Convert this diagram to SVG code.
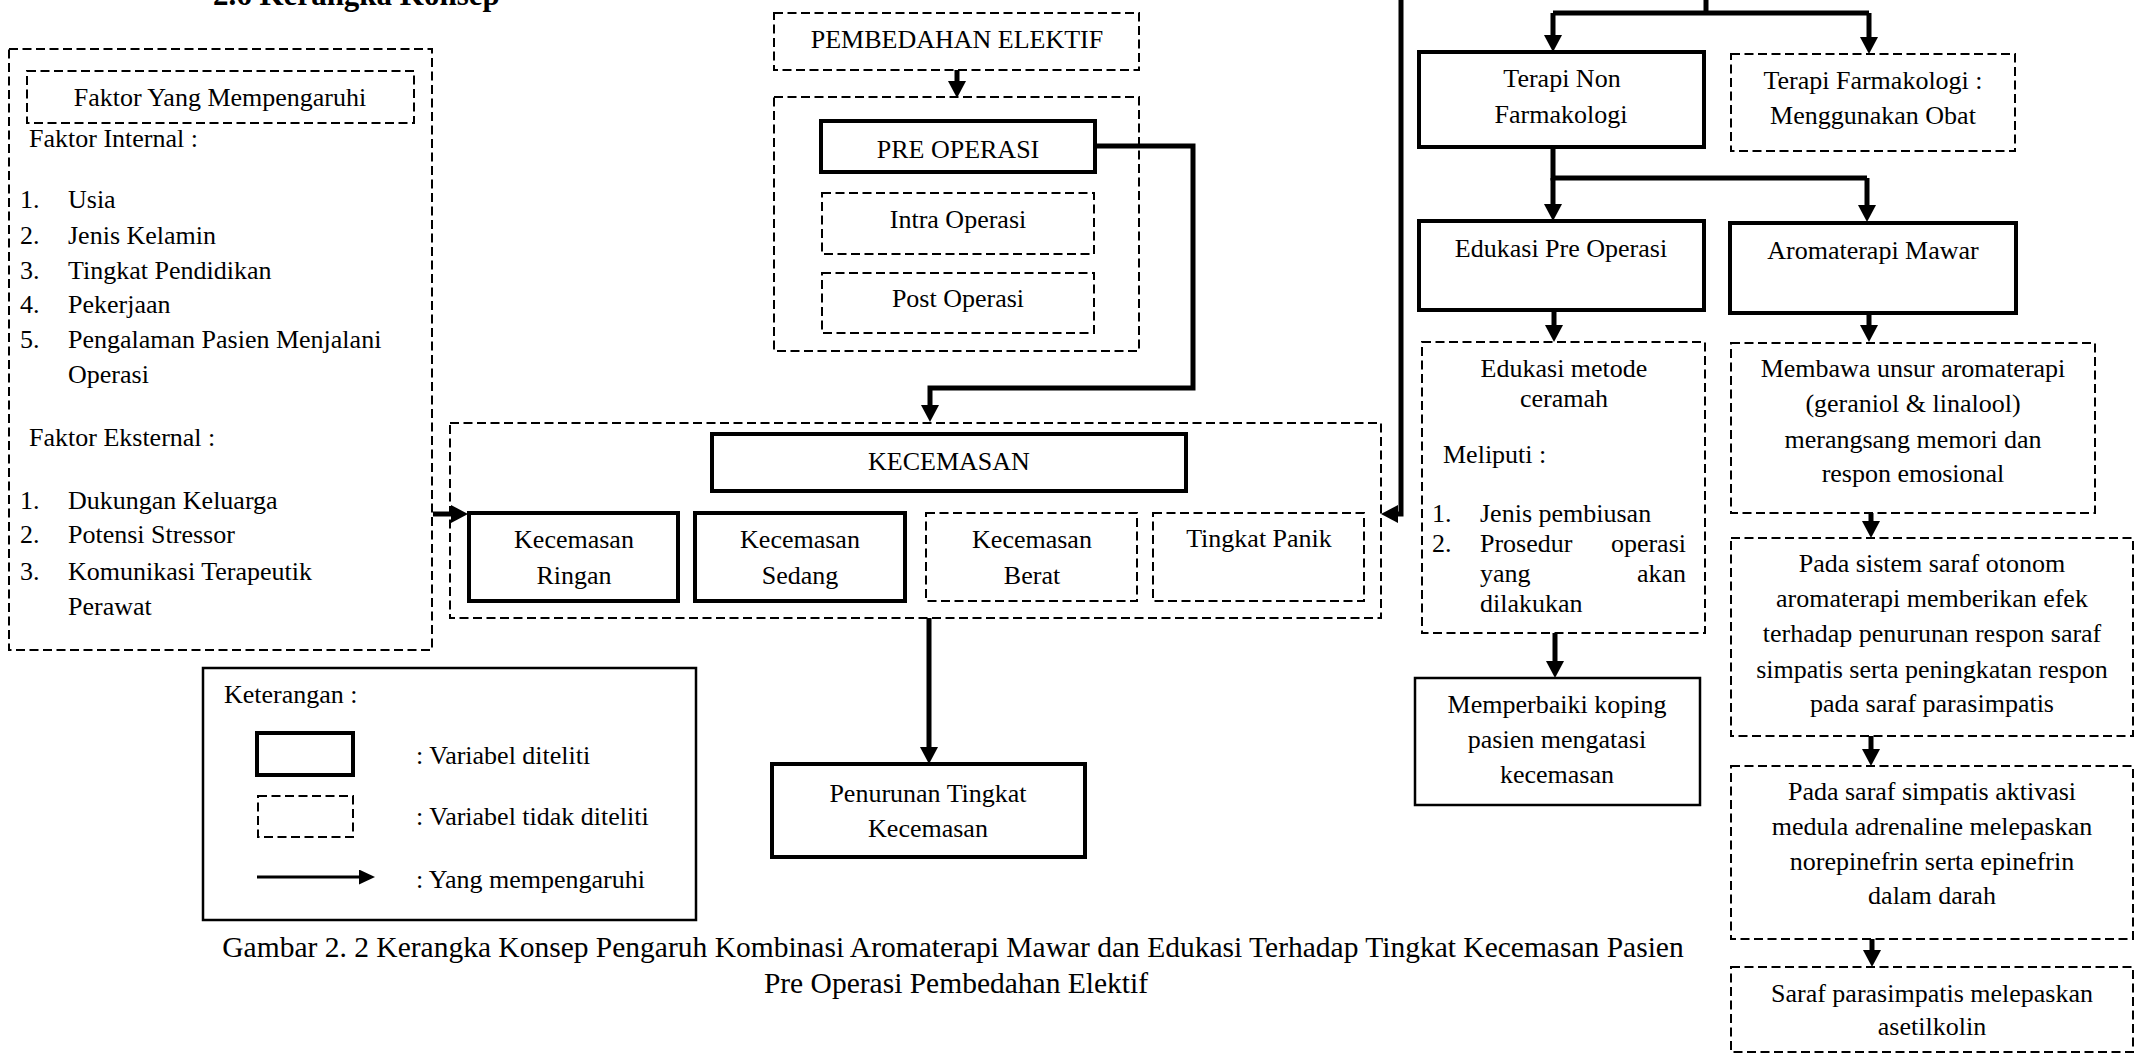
<svg xmlns="http://www.w3.org/2000/svg" width="2143" height="1053" viewBox="0 0 2143 1053">
<style>
text{font-family:"Liberation Serif","Times New Roman",serif;font-size:26px;fill:#000}
.c{text-anchor:middle}
.e{text-anchor:end}
.cap{font-size:29.5px}
.solid{fill:#fff;stroke:#000;stroke-width:4}
.thin{fill:#fff;stroke:#000;stroke-width:2.5}
.dash{fill:none;stroke:#000;stroke-width:2;stroke-dasharray:9 4.5}
.conn{fill:none;stroke:#000;stroke-width:5;stroke-linejoin:miter}
.arr{marker-end:url(#ah)}
</style>
<defs>
<marker id="ah" viewBox="0 0 17 18" refX="0" refY="9" markerWidth="17" markerHeight="18" markerUnits="userSpaceOnUse" orient="auto"><path d="M0,0 L17,9 L0,18 z" fill="#000"/></marker>
<marker id="ahs" viewBox="0 0 16 15" refX="0" refY="7.5" markerWidth="16" markerHeight="15" markerUnits="userSpaceOnUse" orient="auto"><path d="M0,0 L16,7.5 L0,15 z" fill="#000"/></marker>
</defs>
<rect width="2143" height="1053" fill="#fff"/>
<text x="213" y="5" style="font-weight:bold;font-size:31px">2.6 Kerangka Konsep</text>

<g id="connectors">
<path class="conn arr" d="M957,70 V81"/>
<path class="conn arr" d="M1095,146 H1193 V388 H930 V405"/>
<path class="conn arr" d="M433,514 H451"/>
<path class="conn arr" d="M929,618 V747"/>
<path class="conn arr" d="M1401,0 V514 H1398"/>
<path class="conn" d="M1706,0 V13"/>
<path class="conn" d="M1553,13 H1869"/>
<path class="conn arr" d="M1553,13 V35"/>
<path class="conn arr" d="M1869,13 V37"/>
<path class="conn" d="M1553,147 V178 H1867"/>
<path class="conn arr" d="M1553,178 V204"/>
<path class="conn arr" d="M1867,178 V205"/>
<path class="conn arr" d="M1554,310 V325"/>
<path class="conn arr" d="M1869,313 V325"/>
<path class="conn arr" d="M1555,633 V661"/>
<path class="conn arr" d="M1871,513 V521"/>
<path class="conn arr" d="M1871,736 V749"/>
<path class="conn arr" d="M1872,939 V950"/>
</g>

<g id="faktor">
<rect class="dash" x="9" y="49" width="423" height="601"/>
<g id="faktor-title">
<rect class="dash" x="27" y="71" width="387" height="52"/>
<text class="c" x="220" y="106">Faktor Yang Mempengaruhi</text>
</g>
<text x="29" y="147">Faktor Internal :</text>
<text x="20" y="208">1.</text><text x="68" y="208">Usia</text>
<text x="20" y="244">2.</text><text x="68" y="244">Jenis Kelamin</text>
<text x="20" y="279">3.</text><text x="68" y="279">Tingkat Pendidikan</text>
<text x="20" y="313">4.</text><text x="68" y="313">Pekerjaan</text>
<text x="20" y="348">5.</text><text x="68" y="348">Pengalaman Pasien Menjalani</text>
<text x="68" y="383">Operasi</text>
<text x="29" y="446">Faktor Eksternal :</text>
<text x="20" y="509">1.</text><text x="68" y="509">Dukungan Keluarga</text>
<text x="20" y="543">2.</text><text x="68" y="543">Potensi Stressor</text>
<text x="20" y="580">3.</text><text x="68" y="580">Komunikasi Terapeutik</text>
<text x="68" y="615">Perawat</text>
</g>

<g id="pembedahan">
<rect class="dash" x="774" y="13" width="365" height="57"/>
<text class="c" x="957" y="48">PEMBEDAHAN ELEKTIF</text>
</g>
<g id="tahap-operasi">
<rect class="dash" x="774" y="97" width="365" height="254"/>
<g id="pre-operasi"><rect class="solid" x="821" y="121" width="274" height="51"/><text class="c" x="958" y="158">PRE OPERASI</text></g>
<g id="intra-operasi"><rect class="dash" x="822" y="193" width="272" height="61"/><text class="c" x="958" y="228">Intra Operasi</text></g>
<g id="post-operasi"><rect class="dash" x="822" y="273" width="272" height="60"/><text class="c" x="958" y="307">Post Operasi</text></g>
</g>

<g id="kecemasan-group">
<rect class="dash" x="450" y="423" width="931" height="195"/>
<g id="kecemasan"><rect class="solid" x="712" y="434" width="474" height="57"/><text class="c" x="949" y="470">KECEMASAN</text></g>
<g id="ringan"><rect class="solid" x="469" y="513" width="209" height="88"/><text class="c" x="574" y="548">Kecemasan</text><text class="c" x="574" y="584">Ringan</text></g>
<g id="sedang"><rect class="solid" x="695" y="513" width="210" height="88"/><text class="c" x="800" y="548">Kecemasan</text><text class="c" x="800" y="584">Sedang</text></g>
<g id="berat"><rect class="dash" x="926" y="513" width="211" height="88"/><text class="c" x="1032" y="548">Kecemasan</text><text class="c" x="1032" y="584">Berat</text></g>
<g id="panik"><rect class="dash" x="1153" y="513" width="211" height="88"/><text class="c" x="1259" y="547">Tingkat Panik</text></g>
</g>

<g id="penurunan">
<rect class="solid" x="772" y="764" width="313" height="93"/>
<text class="c" x="928" y="802">Penurunan Tingkat</text>
<text class="c" x="928" y="837">Kecemasan</text>
</g>

<g id="legend">
<rect class="thin" x="203" y="668" width="493" height="252"/>
<text x="224" y="703">Keterangan :</text>
<rect class="solid" x="257" y="733" width="96" height="42"/>
<text x="416" y="764">: Variabel diteliti</text>
<rect class="dash" x="258" y="796" width="95" height="41"/>
<text x="416" y="825">: Variabel tidak diteliti</text>
<path d="M257,877 H359" fill="none" stroke="#000" stroke-width="3" marker-end="url(#ahs)"/>
<text x="416" y="888">: Yang mempengaruhi</text>
</g>

<text class="c cap" x="953" y="957">Gambar 2. 2 Kerangka Konsep Pengaruh Kombinasi Aromaterapi Mawar dan Edukasi Terhadap Tingkat Kecemasan Pasien</text>
<text class="c cap" x="956" y="993">Pre Operasi Pembedahan Elektif</text>

<g id="terapi-non"><rect class="solid" x="1419" y="52" width="285" height="95"/><text class="c" x="1562" y="87">Terapi Non</text><text class="c" x="1561" y="123">Farmakologi</text></g>
<g id="terapi-farmakologi"><rect class="dash" x="1731" y="54" width="284" height="97"/><text class="c" x="1873" y="89">Terapi Farmakologi :</text><text class="c" x="1873" y="124">Menggunakan Obat</text></g>
<g id="edukasi-pre"><rect class="solid" x="1419" y="221" width="285" height="89"/><text class="c" x="1561" y="257">Edukasi Pre Operasi</text></g>
<g id="aromaterapi-mawar"><rect class="solid" x="1730" y="223" width="286" height="90"/><text class="c" x="1873" y="259">Aromaterapi Mawar</text></g>

<g id="edukasi-metode">
<rect class="dash" x="1422" y="342" width="283" height="291"/>
<text class="c" x="1564" y="377">Edukasi metode</text>
<text class="c" x="1564" y="407">ceramah</text>
<text x="1443" y="463">Meliputi :</text>
<text x="1432" y="522">1.</text><text x="1480" y="522">Jenis pembiusan</text>
<text x="1432" y="552">2.</text><text x="1480" y="552">Prosedur</text><text class="e" x="1686" y="552">operasi</text>
<text x="1480" y="582">yang</text><text class="e" x="1686" y="582">akan</text>
<text x="1480" y="612">dilakukan</text>
</g>
<g id="memperbaiki">
<rect class="thin" x="1415" y="678" width="285" height="127"/>
<text class="c" x="1557" y="713">Memperbaiki koping</text>
<text class="c" x="1557" y="748">pasien mengatasi</text>
<text class="c" x="1557" y="783">kecemasan</text>
</g>

<g id="membawa">
<rect class="dash" x="1731" y="343" width="364" height="170"/>
<text class="c" x="1913" y="377">Membawa unsur aromaterapi</text>
<text class="c" x="1913" y="412">(geraniol &amp; linalool)</text>
<text class="c" x="1913" y="448">merangsang memori dan</text>
<text class="c" x="1913" y="482">respon emosional</text>
</g>
<g id="sistem-saraf">
<rect class="dash" x="1731" y="538" width="402" height="198"/>
<text class="c" x="1932" y="572">Pada sistem saraf otonom</text>
<text class="c" x="1932" y="607">aromaterapi memberikan efek</text>
<text class="c" x="1932" y="642">terhadap penurunan respon saraf</text>
<text class="c" x="1932" y="678">simpatis serta peningkatan respon</text>
<text class="c" x="1932" y="712">pada saraf parasimpatis</text>
</g>
<g id="simpatis">
<rect class="dash" x="1731" y="766" width="402" height="173"/>
<text class="c" x="1932" y="800">Pada saraf simpatis aktivasi</text>
<text class="c" x="1932" y="835">medula adrenaline melepaskan</text>
<text class="c" x="1932" y="870">norepinefrin serta epinefrin</text>
<text class="c" x="1932" y="904">dalam darah</text>
</g>
<g id="parasimpatis">
<rect class="dash" x="1731" y="967" width="402" height="85"/>
<text class="c" x="1932" y="1002">Saraf parasimpatis melepaskan</text>
<text class="c" x="1932" y="1035">asetilkolin</text>
</g>
</svg>
